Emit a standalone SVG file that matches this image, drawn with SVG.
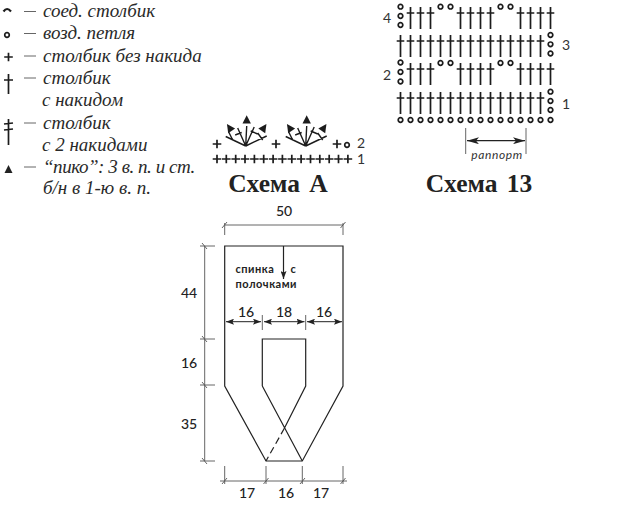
<svg xmlns="http://www.w3.org/2000/svg" xmlns:xlink="http://www.w3.org/1999/xlink" width="640" height="512" viewBox="0 0 640 512">
<style>
.l{font-family:"Liberation Serif",serif;font-style:italic;font-size:19px;fill:#2a2a2a}
.t{font-family:"Liberation Serif",serif;font-weight:bold;font-size:25.500px;fill:#222;text-anchor:middle;word-spacing:3px}
.n{font-family:"Lato",sans-serif;font-size:14px;font-weight:500;fill:#222;text-anchor:middle}
.c{font-family:"Lato",sans-serif;font-size:14px;fill:#333;text-anchor:middle}
.b{font-family:"Lato",sans-serif;font-weight:bold;font-size:11px;fill:#222;letter-spacing:.5px}
.s{stroke:#1c1c1c;stroke-width:1.700;fill:none}
.f{stroke:#1c1c1c;stroke-width:1.400;fill:none}
.d{stroke:#555;stroke-width:.9;fill:none}
.o{stroke:#222;stroke-width:1.200;fill:none}
.m{stroke:#222;stroke-width:1;fill:none}
</style>
<defs>
<g id="st" class="s"><path d="M0 0V22M-3.800 6H3.800"/></g>
<g id="ci"><circle r="2.300" class="s"/></g>
<g id="pl" class="s"><path d="M-4.300 0H4.300M0-4.300V4.300"/></g>
<path id="tr" d="M0-4.800L4.200 3.400H-4.200Z" fill="#1c1c1c"/>
<g id="fan">
<path class="f" d="M0 0L-20-9.500M0 0L-8-18M0 0L1-20M0 0L8.500-19M0 0L21-10M-17-14L-13-6M-10.500-11L-4-13.500M5-15L12-12M12-13L17-6"/>
<use xlink:href="#tr" x="-16" y="-18" transform="rotate(-35 -16 -18)"/>
<use xlink:href="#tr" x="1" y="-26"/>
<use xlink:href="#tr" x="18" y="-18" transform="rotate(35 18 -18)"/>
</g>
<marker id="a" viewBox="0 0 8 6" refX="8" refY="3" markerWidth="8" markerHeight="6" orient="auto-start-reverse" markerUnits="userSpaceOnUse"><path d="M0 0L8 3L0 6L1.500 3Z" fill="#222"/></marker>
<marker id="aw" viewBox="0 0 12 7" refX="12" refY="3.500" markerWidth="12" markerHeight="7" orient="auto-start-reverse" markerUnits="userSpaceOnUse"><path d="M0 0L12 3.500L0 7L3 3.500Z" fill="#222"/></marker>
</defs>

<g id="legend">
<path class="s" style="stroke-width:2.200" d="M3.500 11.500Q7 6.500 11 11.500"/>
<use xlink:href="#ci" x="7" y="35"/>
<use xlink:href="#pl" x="8.500" y="57"/>
<g class="s"><path d="M8.500 74V94M4 80H13"/><path d="M8.500 119V145M4 124L13 123M4 130L13 129"/></g>
<path d="M8.500 165L12.500 173H4.500Z" fill="#222"/>
<path class="d" d="M24 11.500H36M24 33.500H36M24 56H36M24 78H36M24 123H36M24 167H36"/>
<text class="l" x="43" y="17">соед. столбик</text>
<text class="l" x="43" y="39">возд. петля</text>
<text class="l" x="43" y="61.500">столбик без накида</text>
<text class="l" x="43" y="84">столбик</text>
<text class="l" x="42" y="106">с накидом</text>
<text class="l" x="43" y="128.500">столбик</text>
<text class="l" x="42" y="151">с 2 накидами</text>
<text class="l" x="43" y="173" style="letter-spacing:-.45px">“пико”: 3 в. п. и ст.</text>
<text class="l" x="43" y="194">б/н в 1-ю в. п.</text>
</g>

<g id="schema-a">
<use xlink:href="#pl" x="217" y="159"/><use xlink:href="#pl" x="226.300" y="159"/><use xlink:href="#pl" x="235.700" y="159"/><use xlink:href="#pl" x="245" y="159"/><use xlink:href="#pl" x="254.400" y="159"/><use xlink:href="#pl" x="263.700" y="159"/><use xlink:href="#pl" x="273.100" y="159"/><use xlink:href="#pl" x="282.400" y="159"/><use xlink:href="#pl" x="291.800" y="159"/><use xlink:href="#pl" x="301.100" y="159"/><use xlink:href="#pl" x="310.500" y="159"/><use xlink:href="#pl" x="319.800" y="159"/><use xlink:href="#pl" x="329.200" y="159"/><use xlink:href="#pl" x="338.500" y="159"/><use xlink:href="#pl" x="347.900" y="159"/>
<use xlink:href="#pl" x="217" y="144"/><use xlink:href="#pl" x="276" y="144"/><use xlink:href="#pl" x="337" y="144"/>
<use xlink:href="#ci" x="347" y="145"/>
<use xlink:href="#fan" x="245.700" y="146"/><use xlink:href="#fan" x="305.700" y="146"/>
<text class="c" x="361" y="148">2</text><text class="c" x="361" y="164">1</text>
<text class="t" x="278" y="192">Схема А</text>
</g>

<g id="schema-13">
<g id="r4"><use xlink:href="#ci" x="400.500" y="6.700"/><use xlink:href="#ci" x="400.500" y="16"/><use xlink:href="#ci" x="400.500" y="25"/>
<use xlink:href="#st" x="410.500" y="7"/><use xlink:href="#st" x="420.500" y="7"/><use xlink:href="#st" x="430.500" y="7"/>
<use xlink:href="#ci" x="440.500" y="6.700"/><use xlink:href="#ci" x="450.500" y="6.700"/>
<use xlink:href="#st" x="460.500" y="7"/><use xlink:href="#st" x="470.500" y="7"/><use xlink:href="#st" x="480.500" y="7"/><use xlink:href="#st" x="490.500" y="7"/>
<use xlink:href="#ci" x="500.500" y="6.700"/><use xlink:href="#ci" x="510.500" y="6.700"/>
<use xlink:href="#st" x="520.500" y="7"/><use xlink:href="#st" x="530.500" y="7"/><use xlink:href="#st" x="540.500" y="7"/><use xlink:href="#st" x="550.500" y="7"/></g>
<g id="r2"><use xlink:href="#ci" x="400.500" y="62.500"/><use xlink:href="#ci" x="400.500" y="72"/><use xlink:href="#ci" x="400.500" y="81.500"/>
<use xlink:href="#st" x="410.500" y="63"/><use xlink:href="#st" x="420.500" y="63"/><use xlink:href="#st" x="430.500" y="63"/>
<use xlink:href="#ci" x="440.500" y="63"/><use xlink:href="#ci" x="450.500" y="63"/>
<use xlink:href="#st" x="460.500" y="63"/><use xlink:href="#st" x="470.500" y="63"/><use xlink:href="#st" x="480.500" y="63"/><use xlink:href="#st" x="490.500" y="63"/>
<use xlink:href="#ci" x="500.500" y="63"/><use xlink:href="#ci" x="510.500" y="63"/>
<use xlink:href="#st" x="520.500" y="63"/><use xlink:href="#st" x="530.500" y="63"/><use xlink:href="#st" x="540.500" y="63"/><use xlink:href="#st" x="550.500" y="63"/></g>
<g id="r3"><use xlink:href="#st" x="400.500" y="35"/><use xlink:href="#st" x="410.500" y="35"/><use xlink:href="#st" x="420.500" y="35"/><use xlink:href="#st" x="430.500" y="35"/><use xlink:href="#st" x="440.500" y="35"/><use xlink:href="#st" x="450.500" y="35"/><use xlink:href="#st" x="460.500" y="35"/><use xlink:href="#st" x="470.500" y="35"/><use xlink:href="#st" x="480.500" y="35"/><use xlink:href="#st" x="490.500" y="35"/><use xlink:href="#st" x="500.500" y="35"/><use xlink:href="#st" x="510.500" y="35"/><use xlink:href="#st" x="520.500" y="35"/><use xlink:href="#st" x="530.500" y="35"/><use xlink:href="#st" x="540.500" y="35"/>
<use xlink:href="#ci" x="550.500" y="35"/><use xlink:href="#ci" x="550.500" y="44.300"/><use xlink:href="#ci" x="550.500" y="53.500"/></g>
<g id="r1"><use xlink:href="#st" x="400.500" y="92"/><use xlink:href="#st" x="410.500" y="92"/><use xlink:href="#st" x="420.500" y="92"/><use xlink:href="#st" x="430.500" y="92"/><use xlink:href="#st" x="440.500" y="92"/><use xlink:href="#st" x="450.500" y="92"/><use xlink:href="#st" x="460.500" y="92"/><use xlink:href="#st" x="470.500" y="92"/><use xlink:href="#st" x="480.500" y="92"/><use xlink:href="#st" x="490.500" y="92"/><use xlink:href="#st" x="500.500" y="92"/><use xlink:href="#st" x="510.500" y="92"/><use xlink:href="#st" x="520.500" y="92"/><use xlink:href="#st" x="530.500" y="92"/><use xlink:href="#st" x="540.500" y="92"/>
<use xlink:href="#ci" x="550.500" y="91.700"/><use xlink:href="#ci" x="550.500" y="101"/><use xlink:href="#ci" x="550.500" y="110"/></g>
<g id="r0"><use xlink:href="#ci" x="400.500" y="120"/><use xlink:href="#ci" x="410.500" y="120"/><use xlink:href="#ci" x="420.500" y="120"/><use xlink:href="#ci" x="430.500" y="120"/><use xlink:href="#ci" x="440.500" y="120"/><use xlink:href="#ci" x="450.500" y="120"/><use xlink:href="#ci" x="460.500" y="120"/><use xlink:href="#ci" x="470.500" y="120"/><use xlink:href="#ci" x="480.500" y="120"/><use xlink:href="#ci" x="490.500" y="120"/><use xlink:href="#ci" x="500.500" y="120"/><use xlink:href="#ci" x="510.500" y="120"/><use xlink:href="#ci" x="520.500" y="120"/><use xlink:href="#ci" x="530.500" y="120"/><use xlink:href="#ci" x="540.500" y="120"/><use xlink:href="#ci" x="550.500" y="120"/></g>
<text class="c" x="387" y="23">4</text><text class="c" x="566" y="50">3</text><text class="c" x="387" y="80">2</text><text class="c" x="566" y="109">1</text>
<path class="d" d="M465.700 128V154M526 128V154"/>
<path class="o" d="M467 140.700H525" marker-start="url(#aw)" marker-end="url(#aw)"/>
<text x="497" y="159" style="font-family:'Lato',sans-serif;font-style:italic;font-size:12px;fill:#333;text-anchor:middle;letter-spacing:.6px">раппорт</text>
<text class="t" x="479" y="192">Схема 13</text>
</g>

<g id="pattern">
<path class="o" d="M224.700 246H343V386L302.300 461H266L224.700 386Z"/>
<path class="o" d="M262.300 386V339H305.700V386L284.500 428M262.300 386L302.300 461"/>
<path class="o" stroke-dasharray="7 4" d="M284.500 428L266 461"/>
<path class="o" d="M283.500 246V279" marker-end="url(#a)"/>
<text class="b" x="235.500" y="272.500">спинка</text><text class="b" x="290.500" y="272.500">с</text>
<text class="b" x="235.500" y="288">полочками</text>
</g>

<g id="dimensions">
<path class="d" d="M224.700 225H343M224.700 223V235M343 223V235M222 228L227 222M340.500 228L345.500 222"/>
<path class="d" d="M204.700 246V461M200 246H215M200 339H215M200 385H215M200 461H215M202 243L207 249M202 336L207 342M202 382L207 388M202 458L207 464"/>
<path class="d" d="M262.300 315V330M305.700 315V330"/>
<path class="m" marker-start="url(#a)" marker-end="url(#a)" d="M226 321.700H261"/>
<path class="m" marker-start="url(#a)" marker-end="url(#a)" d="M264 321.700H304.500"/>
<path class="m" marker-start="url(#a)" marker-end="url(#a)" d="M307 321.700H342"/>
<path class="d" d="M220 481H347M224.700 466V484M266 466V484M302.300 466V484M343 466V484M222 484L227 478M263.500 484L268.500 478M300 484L305 478M340.500 484L345.500 478"/>
<text class="n" x="284" y="216">50</text>
<text class="n" x="189" y="298">44</text><text class="n" x="189" y="368">16</text><text class="n" x="189" y="429">35</text>
<text class="n" x="246" y="317">16</text><text class="n" x="284" y="317">18</text><text class="n" x="324" y="317">16</text>
<text class="n" x="247" y="498">17</text><text class="n" x="286" y="498">16</text><text class="n" x="321" y="498">17</text>
</g>
</svg>
